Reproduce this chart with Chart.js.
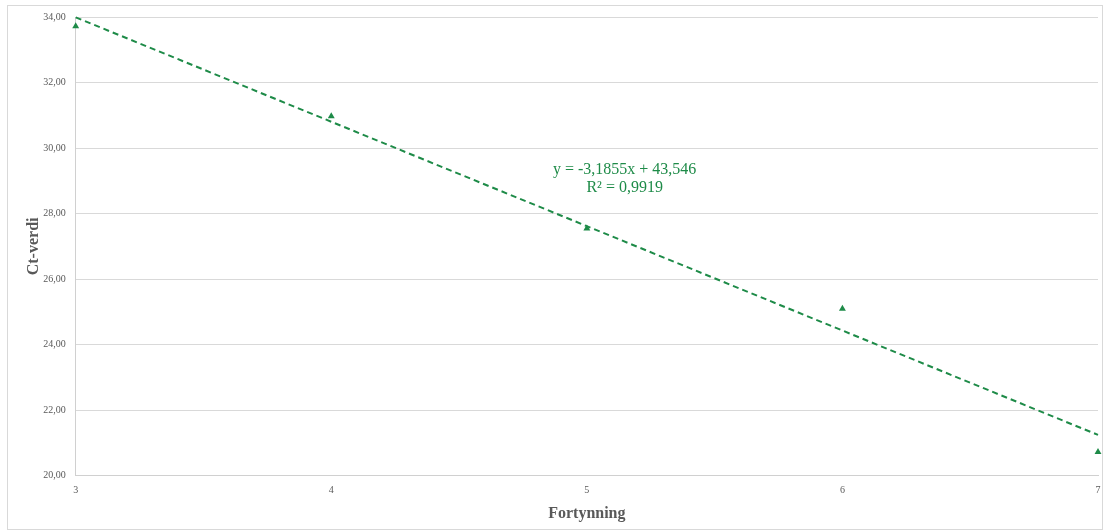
<!DOCTYPE html>
<html>
<head>
<meta charset="utf-8">
<script src="https://cdn.jsdelivr.net/npm/chart.js@4/dist/chart.umd.min.js"></script>
<style>
  html, body { margin: 0; padding: 0; background: #fff; }
  #wrap { position: absolute; left: 7px; top: 5px; width: 1096px; height: 525px;
          border: 1px solid #d9d9d9; box-sizing: border-box; }
</style>
</head>
<body>
<div id="wrap"><canvas id="chart"></canvas></div>
<script>
// fortynning (x) og Ct-verdi (y)
var dilution = [3, 4, 5, 6, 7];
var ctValues = [33.72, 30.97, 27.55, 25.10, 20.73];
// trendlinje fra regneark
var slope = -3.1855;
var intercept = 43.546;
var trendText = ["y = -3,1855x + 43,546", "R\u00b2 = 0,9919"];

var green = "#1e8b48";
var serif = "'Liberation Serif', serif";

function fmtComma(v) {
    return Number(v).toFixed(2).replace(".", ",");
}

var trendPoints = [dilution[0], dilution[dilution.length - 1]].map(function (x) {
    return { x: x, y: slope * x + intercept };
});

var labelPlugin = {
    id: "trendLabel",
    afterDatasetsDraw: function (chart) {
        var ctx = chart.ctx;
        var xs = chart.scales.x, ys = chart.scales.y;
        var px = xs.getPixelForValue(5.148);
        var py = ys.getPixelForValue(29.33);
        ctx.save();
        ctx.fillStyle = green;
        ctx.font = "16px " + serif;
        ctx.textAlign = "center";
        ctx.textBaseline = "middle";
        ctx.fillText(trendText[0], px, py);
        ctx.fillText(trendText[1], px, py + 18);
        ctx.restore();
    }
};

var ctx = document.getElementById("chart").getContext("2d");
new Chart(ctx, {
    type: "scatter",
    data: {
        datasets: [
            {
                label: "Ct",
                data: dilution.map(function (x, i) { return { x: x, y: ctValues[i] }; }),
                pointStyle: "triangle",
                pointRadius: 4,
                backgroundColor: green,
                borderColor: green,
                borderWidth: 0,
                clip: false,
                order: 1
            },
            {
                label: "Trend",
                type: "line",
                data: trendPoints,
                borderColor: green,
                borderWidth: 2,
                borderDash: [6, 4],
                pointRadius: 0,
                fill: false,
                clip: false,
                order: 0
            }
        ]
    },
    options: {
        responsive: true,
        maintainAspectRatio: false,
        animation: false,
        layout: { padding: { top: 11, right: -3, left: 12, bottom: 3 } },
        plugins: {
            legend: { display: false },
            tooltip: { enabled: false }
        },
        scales: {
            x: {
                type: "linear",
                min: 3,
                max: 7,
                afterFit: function (scale) { scale.paddingRight = 0; },
                ticks: {
                    stepSize: 1,
                    padding: 1,
                    color: "#595959",
                    font: { family: serif, size: 10 }
                },
                grid: { display: false },
                border: { display: true, color: "#d0d0d0", width: 1 },
                title: {
                    display: true,
                    text: "Fortynning",
                    color: "#595959",
                    font: { family: serif, size: 16, weight: "bold" },
                    padding: { top: 6, bottom: 3 }
                }
            },
            y: {
                min: 20,
                max: 34,
                afterFit: function (scale) { scale.paddingTop = 0; },
                ticks: {
                    stepSize: 2,
                    padding: 10,
                    color: "#595959",
                    font: { family: serif, size: 10 },
                    callback: function (v) { return fmtComma(v); }
                },
                grid: { color: "#d9d9d9", drawTicks: false },
                border: { display: true, color: "#d0d0d0", width: 1 },
                title: {
                    display: true,
                    text: "Ct-verdi",
                    color: "#595959",
                    font: { family: serif, size: 16, weight: "bold" },
                    padding: { top: 4, bottom: -10 }
                }
            }
        }
    },
    plugins: [labelPlugin]
});
</script>
</body>
</html>
